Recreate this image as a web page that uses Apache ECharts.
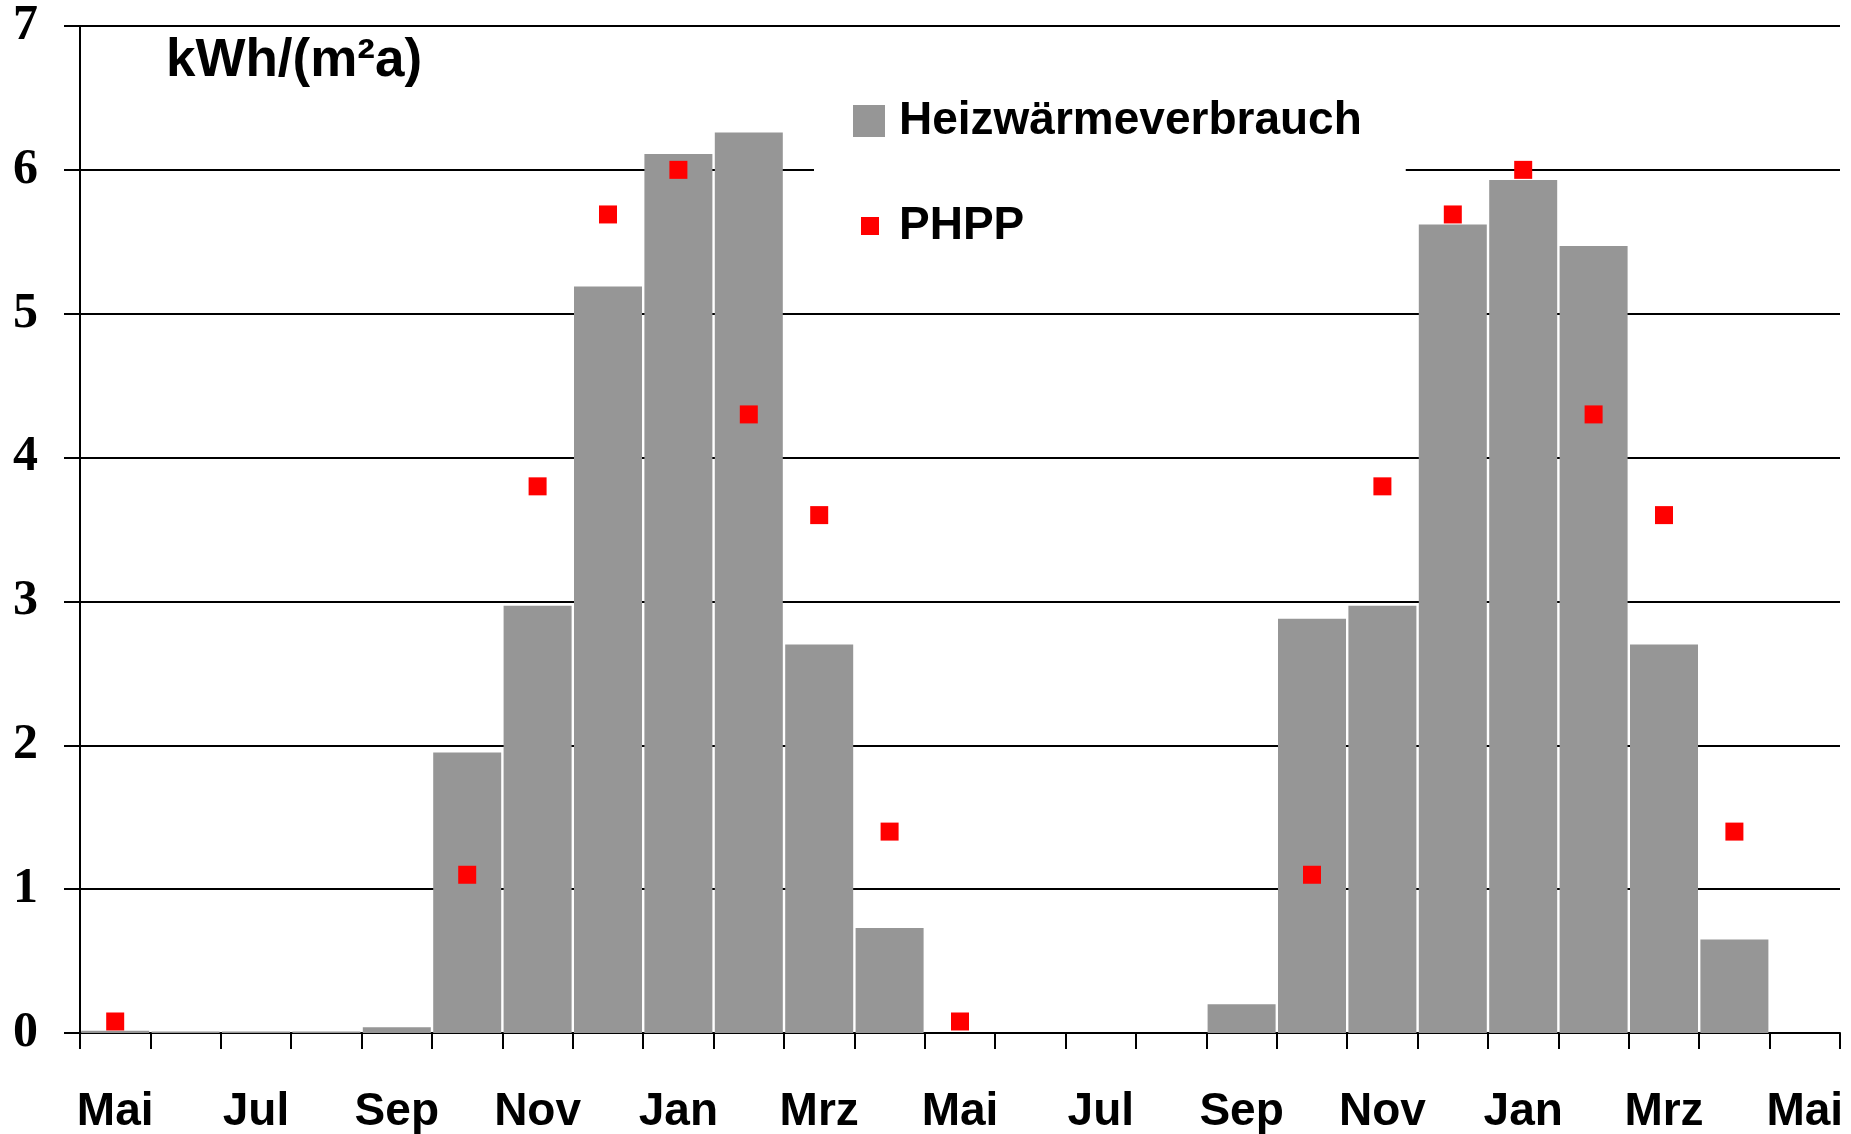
<!DOCTYPE html>
<html>
<head>
<meta charset="utf-8">
<script src="https://cdn.jsdelivr.net/npm/echarts@6/dist/echarts.min.js"></script>
<style>
  html, body { margin: 0; padding: 0; background: #fff; }
  #chart { width: 1851px; height: 1134px; }
</style>
</head>
<body>
<div id="chart"></div>
<script>
// Monthly categories, May to May over two heating seasons
const months = ['Mai','Jun','Jul','Aug','Sep','Okt','Nov','Dez','Jan','Feb','Mrz','Apr',
                'Mai','Jun','Jul','Aug','Sep','Okt','Nov','Dez','Jan','Feb','Mrz','Apr','Mai'];

// Measured heating consumption, kWh/(m²a) per month
const heizwaerme = [0.015, 0.01, 0.01, 0.01, 0.04, 1.95, 2.97, 5.19, 6.11, 6.26, 2.70, 0.73,
                    null, null, null, null, 0.20, 2.88, 2.97, 5.62, 5.93, 5.47, 2.70, 0.65, null];

// PHPP calculated monthly values
const phpp = [0.08, null, null, null, null, 1.1, 3.8, 5.69, 6.0, 4.3, 3.6, 1.4,
              0.08, null, null, null, null, 1.1, 3.8, 5.69, 6.0, 4.3, 3.6, 1.4, null];

const yTicks = [0, 1, 2, 3, 4, 5, 6, 7];

const chart = echarts.init(document.getElementById('chart'), null, { renderer: 'canvas' });

const sansBold = { fontFamily: 'Liberation Sans, Arial, sans-serif', fontWeight: 'bold', color: '#000' };

chart.setOption({
  animation: false,
  backgroundColor: '#fff',
  title: {
    text: 'kWh/(m²a)',
    left: 166,
    top: 35,
    padding: 0,
    textStyle: Object.assign({ fontSize: 53 }, sansBold)
  },
  legend: [
    {
      data: ['Heizwärmeverbrauch'],
      left: 814,
      top: 84,
      orient: 'vertical',
      itemWidth: 32,
      itemHeight: 32,
      padding: [14, 44, 36, 39],
      backgroundColor: '#fff',
      icon: 'rect',
      itemStyle: { opacity: 1 },
      textStyle: Object.assign({ fontSize: 46, padding: [0, 0, 0, 9] }, sansBold)
    },
    {
      data: ['PHPP'],
      left: 861,
      top: 203,
      orient: 'vertical',
      itemWidth: 18,
      itemHeight: 18,
      padding: 0,
      icon: 'rect',
      itemStyle: { opacity: 1 },
      textStyle: Object.assign({ fontSize: 46, padding: [0, 0, 0, 15] }, sansBold)
    }
  ],
  grid: {
    left: 80,
    right: 11,
    top: 26,
    bottom: 101,
    containLabel: false,
    outerBoundsMode: 'none'
  },
  xAxis: {
    type: 'category',
    data: months,
    boundaryGap: true,
    axisLine: { show: true, lineStyle: { color: '#000', width: 2 } },
    axisTick: { show: true, alignWithLabel: false, interval: 0, length: 16, lineStyle: { color: '#000', width: 2 } },
    axisLabel: Object.assign({ interval: 1, fontSize: 46, margin: 56 }, sansBold),
    splitLine: { show: false }
  },
  yAxis: {
    type: 'value',
    min: yTicks[0],
    max: yTicks[yTicks.length - 1],
    interval: 1,
    axisLine: { show: true, lineStyle: { color: '#000', width: 2 } },
    axisTick: { show: true, length: 16, lineStyle: { color: '#000', width: 2 } },
    axisLabel: {
      fontFamily: 'Liberation Serif, Times New Roman, serif',
      fontWeight: 'bold',
      fontSize: 50,
      color: '#000',
      margin: 42
    },
    splitLine: { show: true, lineStyle: { color: '#000', width: 2 } }
  },
  series: [
    {
      name: 'Heizwärmeverbrauch',
      type: 'bar',
      data: heizwaerme,
      barWidth: 68,
      itemStyle: { color: '#969696', opacity: 1 },
      z: 2
    },
    {
      name: 'PHPP',
      type: 'scatter',
      data: phpp,
      symbol: 'rect',
      symbolSize: 18,
      itemStyle: { color: '#ff0000', opacity: 1 },
      z: 3
    }
  ]
});
</script>
</body>
</html>
